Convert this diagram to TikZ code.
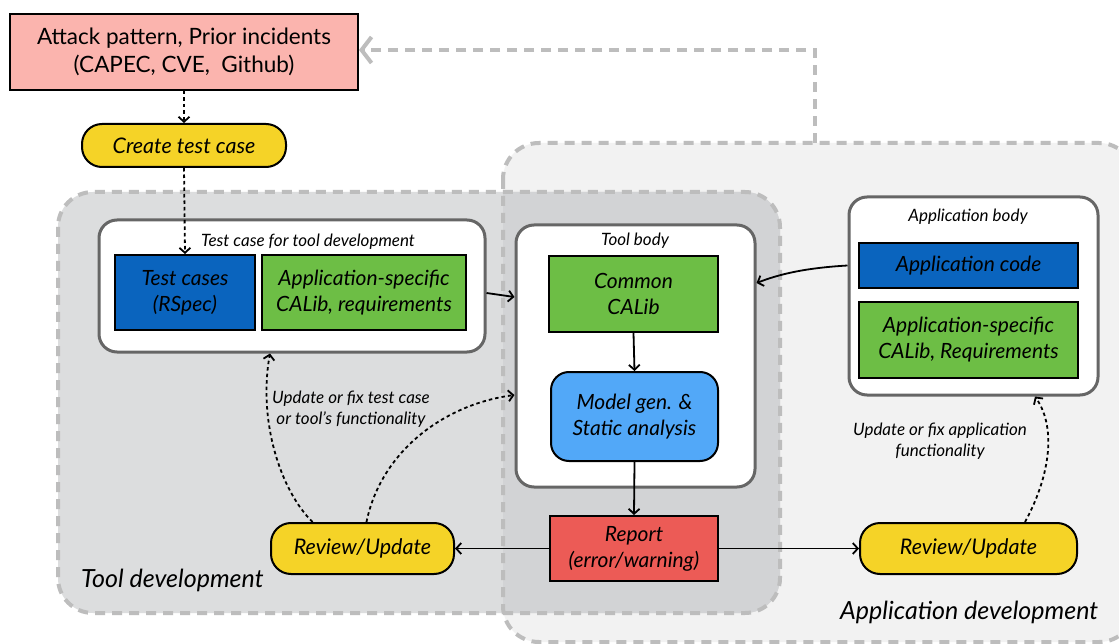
\documentclass[tikz,border=0pt]{standalone}
\usepackage{fontspec}
\setmainfont{Lato}
\usetikzlibrary{arrows.meta}

\definecolor{srcpink}{HTML}{FBB4AE}
\definecolor{pillyellow}{HTML}{F5D327}
\definecolor{darkblue}{HTML}{0A64BE}
\definecolor{libgreen}{HTML}{6DBE45}
\definecolor{modelblue}{HTML}{52A8F8}
\definecolor{reportred}{HTML}{EC5B56}
\definecolor{appfill}{HTML}{F2F2F2}
\definecolor{toolfill}{HTML}{DCDDDE}
\definecolor{bothfill}{HTML}{D2D3D5}
\definecolor{regiongray}{HTML}{BDBDBD}
\definecolor{panelgray}{HTML}{666666}

\begin{document}
\begin{tikzpicture}[x=1pt,y=-1pt,
  box/.style={draw=black, line width=2pt, inner sep=0pt, align=center,
    font=\fontsize{21}{26}\selectfont\itshape},
  pill/.style={box, rounded corners=20pt, fill=pillyellow,
    font=\fontsize{21.5}{26}\selectfont\itshape},
  panel/.style={draw=panelgray, line width=3pt, fill=white, rounded corners=18pt, inner sep=0pt},
  conn/.style={line width=1.8pt, -{Straight Barb[length=5pt,width=11pt]}},
  fb/.style={conn, dash pattern=on 3.5pt off 3pt},
  caption/.style={font=\fontsize{17}{21}\selectfont\itshape, inner sep=0pt, align=center},
  bigcaption/.style={font=\fontsize{25}{30}\selectfont\itshape, inner sep=0pt},
  regionline/.style={draw=regiongray, line width=4pt, dash pattern=on 10pt off 7pt}
]
\clip (0,0) rectangle (1119,644);
\fill[white] (0,0) rectangle (1119,644);

% development regions
\def\apppath{(503,143) rectangle (1135,642)}
\def\toolpath{(58,192) rectangle (780,613)}
\fill[appfill, rounded corners=36pt] \apppath;
\fill[toolfill, rounded corners=35pt] \toolpath;
\begin{scope}
  \clip[rounded corners=36pt] \apppath;
  \fill[bothfill, rounded corners=35pt] \toolpath;
\end{scope}
\draw[regionline, rounded corners=36pt] \apppath;
\draw[regionline, rounded corners=35pt] \toolpath;

\node[bigcaption, anchor=west] (tooldev) at (81,580) {Tool development};
\node[bigcaption, anchor=west] (appdev) at (840,612) {Application development};

% sources
\node[box, fill=srcpink, font=\fontsize{22.5}{28}\selectfont,
  minimum width=348pt, minimum height=76pt] (src) at (184,52)
  {Attack pattern, Prior incidents\\(CAPEC, CVE,\ \ Github)};
\node[pill, minimum width=204pt, minimum height=43pt] (create) at (184,145.5) {Create test case};

% test case panel
\node[panel, minimum width=386pt, minimum height=132pt] (testbox) at (292,286) {};
\node[caption] (testlbl) at (308,242) {Test case for tool development};
\node[box, fill=darkblue, minimum width=140pt, minimum height=75pt] (rspec) at (185,292.5) {Test cases\\(RSpec)};
\node[box, fill=libgreen, minimum width=204pt, minimum height=75pt] (appspec) at (364,292.5) {Application-specific\\CALib, requirements};

% tool body panel
\node[panel, minimum width=239pt, minimum height=262pt] (toolbody) at (635.5,356) {};
\node[caption] (toollbl) at (635,241) {Tool body};
\node[box, fill=libgreen, minimum width=169pt, minimum height=76pt] (common) at (633.5,294) {Common\\CALib};
\node[box, fill=modelblue, rounded corners=18pt, minimum width=167pt, minimum height=89pt] (model) at (634.5,416.5) {Model gen. \&\\Static analysis};
\node[box, fill=reportred, minimum width=168pt, minimum height=65pt] (report) at (634,548.5) {Report\\(error/warning)};

% application body panel
\node[panel, minimum width=249pt, minimum height=198pt] (appbody) at (973.5,296) {};
\node[caption] (applbl) at (968,217) {Application body};
\node[box, fill=darkblue, minimum width=219pt, minimum height=45pt] (appcode) at (968.5,265.5) {Application code};
\node[box, fill=libgreen, minimum width=219pt, minimum height=76pt] (appreq) at (968.5,340) {Application-specific\\CALib, Requirements};

% review steps
\node[pill, minimum width=183pt, minimum height=51pt] (revL) at (362.5,548.5) {Review/Update};
\node[pill, minimum width=217pt, minimum height=51pt] (revR) at (968.5,548.5) {Review/Update};

\node[caption] (fixtool) at (351,409) {Update or fix test case\\or tool's functionality};
\node[caption] (fixapp) at (940,441) {Update or fix application\\functionality};

% feedback to the sources
\coordinate (apptop) at (815,143);
\draw[regionline, -{Straight Barb[length=10pt,width=26pt]}]
  (apptop) |- (src.east |- 0,50);

% connectors
\draw[fb] (src.south) -- (create.north);
\draw[fb] (create.south) -- (rspec.north);
\draw[conn] (testbox.east |- 0,293) -- (toolbody.west |- 0,297);
\draw[conn] (common.south) -- (model.north);
\draw[conn] (model.south) -- (report.north);
\draw[conn] (report.west) -- (revL.east);
\draw[conn] (report.east) -- (revR.west);
\draw[conn] (appbody.west |- appcode) .. controls (805,268) and (780,274) .. (toolbody.east |- 0,283);

\draw[fb] ([xshift=-50pt]revL.north) .. controls (280,490) and (258,420) .. ([xshift=-22pt]testbox.south);
\draw[fb] ([xshift=4pt]revL.north) .. controls (380,455) and (440,405) .. (toolbody.west |- 0,395);
\draw[fb] ([xshift=56.5pt]revR.north) .. controls (1048,480) and (1058,430) .. ([xshift=61.5pt]appbody.south);
\end{tikzpicture}
\end{document}
